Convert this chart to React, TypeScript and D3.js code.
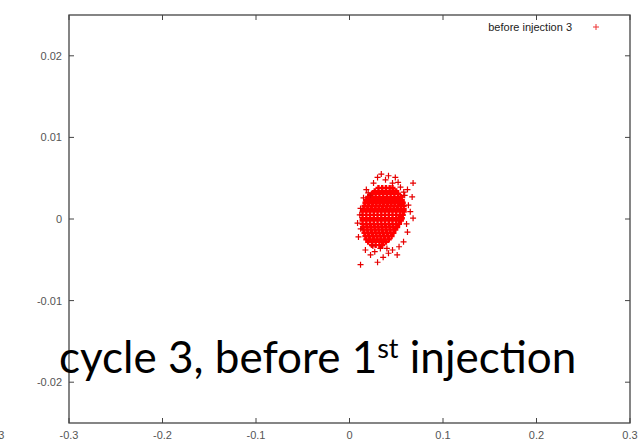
import React from "react";
import * as d3 from "d3";

const W = 644;
const H = 439;

const xTicks = [-0.3, -0.2, -0.1, 0, 0.1, 0.2, 0.3];
const yTicks = [-0.02, -0.01, 0, 0.01, 0.02];
const xTickLabels = ["-0.3", "-0.2", "-0.1", "0", "0.1", "0.2", "0.3"];
const yTickLabels = ["-0.02", "-0.01", "0", "0.01", "0.02"];

const seriesName = "before injection 3";
const titleMain = "cycle 3, before 1";
const titleSup = "st";
const titleTail = " injection";

// dense core of the cloud, by row: [y, x values]
const coreRows: [number, number[]][] = [
  [0.0038, [0.031, 0.035, 0.039, 0.043, 0.046]],
  [0.0034, [0.027, 0.031, 0.035, 0.039, 0.043, 0.047, 0.05]],
  [0.0031, [0.024, 0.028, 0.032, 0.036, 0.04, 0.044, 0.048, 0.052]],
  [0.0027, [0.02, 0.024, 0.028, 0.032, 0.036, 0.04, 0.044, 0.048, 0.052, 0.055]],
  [0.0023, [0.018, 0.022, 0.026, 0.03, 0.034, 0.038, 0.042, 0.046, 0.05, 0.053, 0.056]],
  [0.002, [0.017, 0.021, 0.025, 0.029, 0.033, 0.037, 0.041, 0.045, 0.049, 0.053, 0.057]],
  [0.0016, [0.016, 0.02, 0.024, 0.028, 0.032, 0.036, 0.04, 0.044, 0.048, 0.052, 0.055, 0.058]],
  [0.0012, [0.015, 0.019, 0.023, 0.027, 0.031, 0.035, 0.039, 0.043, 0.047, 0.051, 0.055, 0.058]],
  [0.0009, [0.014, 0.018, 0.022, 0.026, 0.03, 0.034, 0.038, 0.042, 0.046, 0.05, 0.054, 0.058]],
  [0.0005, [0.014, 0.018, 0.022, 0.026, 0.03, 0.034, 0.038, 0.042, 0.046, 0.05, 0.054, 0.057]],
  [0.0001, [0.014, 0.018, 0.022, 0.026, 0.03, 0.034, 0.038, 0.042, 0.046, 0.05, 0.053, 0.056]],
  [-0.0002, [0.014, 0.018, 0.022, 0.026, 0.03, 0.034, 0.038, 0.042, 0.046, 0.05, 0.055]],
  [-0.0006, [0.014, 0.018, 0.022, 0.026, 0.03, 0.034, 0.038, 0.042, 0.046, 0.05, 0.053]],
  [-0.001, [0.015, 0.019, 0.023, 0.027, 0.031, 0.035, 0.039, 0.043, 0.047, 0.051]],
  [-0.0013, [0.015, 0.019, 0.023, 0.027, 0.031, 0.035, 0.039, 0.043, 0.047, 0.049]],
  [-0.0017, [0.016, 0.02, 0.024, 0.028, 0.032, 0.036, 0.04, 0.044, 0.047]],
  [-0.0021, [0.017, 0.021, 0.025, 0.029, 0.033, 0.037, 0.041, 0.045]],
  [-0.0025, [0.018, 0.022, 0.026, 0.03, 0.034, 0.038, 0.042]],
  [-0.0028, [0.02, 0.024, 0.028, 0.032, 0.036, 0.039]],
  [-0.0032, [0.024, 0.028, 0.032, 0.035]],
];

// scattered points around the core: [x, y]
const fringePoints: [number, number][] = [
  [0.03, 0.0051], [0.0385, 0.0048], [0.049, 0.0051], [0.068, 0.0044],
  [0.0257, 0.0044], [0.015, 0.0026], [0.0118, 0.0013], [0.067, 0.0027],
  [0.063, 0.0017], [0.068, 0.0001], [0.062, 0.0036], [0.0545, 0.0039],
  [0.046, 0.0044], [0.0225, 0.0029], [0.0118, -0.0056], [0.03, -0.0053],
  [0.051, -0.0044], [0.0578, -0.0028], [0.062, -0.0016], [0.017, -0.0038],
  [0.0417, -0.0042], [0.0096, -0.0022], [0.0086, -0.0005], [0.036, -0.0047],
  [0.0225, -0.0044], [0.034, 0.0055], [0.018, 0.0036], [0.011, 0.0005],
  [0.065, 0.0009], [0.046, -0.0038], [0.033, -0.0036], [0.025, -0.0033],
  [0.059, 0.0029], [0.0417, 0.0053], [0.058, 0.0033], [0.061, -0.0006],
  [0.012, -0.0012], [0.027, -0.004], [0.04, -0.0036], [0.053, -0.0034],
  [0.02, 0.0032], [0.052, 0.0045],
];

const left = 69;
const right = 630;
const top = 15;
const bottom = 423;

export default function App() {
  const x = d3.scaleLinear().domain([-0.3, 0.3]).range([left, right]);
  const y = d3.scaleLinear().domain([-0.025, 0.025]).range([bottom, top]);

  const arm = 3;
  const cross = ([xv, yv]: [number, number]) => {
    const px = x(xv);
    const py = y(yv);
    return `M${px - arm},${py}h${2 * arm}M${px},${py - arm}v${2 * arm}`;
  };

  const corePoints: [number, number][] = [];
  coreRows.forEach(([yv, xs]) => xs.forEach((xv) => corePoints.push([xv, yv])));
  const corePath = corePoints.map(cross).join("");
  const fringePath = fringePoints.map(cross).join("");

  const axisColor = "#444";
  const labelColor = "#555";
  const tickLen = 5;
  const font = "'Liberation Sans', Arial, sans-serif";

  return (
    <svg
      width={W}
      height={H}
      style={{ position: "absolute", left: 0, top: 0, background: "#fff" }}
    >
      <rect x={0} y={0} width={W} height={H} fill="#fff" />
      {/* ticks */}
      <g stroke={axisColor} strokeWidth={1}>
        {xTicks.map((t) => (
          <g key={"xt" + t}>
            <line x1={x(t)} x2={x(t)} y1={bottom} y2={bottom - tickLen} />
            <line x1={x(t)} x2={x(t)} y1={top} y2={top + tickLen} />
          </g>
        ))}
        {yTicks.map((t) => (
          <g key={"yt" + t}>
            <line x1={left} x2={left + tickLen} y1={y(t)} y2={y(t)} />
            <line x1={right} x2={right - tickLen} y1={y(t)} y2={y(t)} />
          </g>
        ))}
      </g>
      {/* frame */}
      <rect
        x={left}
        y={top}
        width={right - left}
        height={bottom - top}
        fill="none"
        stroke={axisColor}
        strokeWidth={1.3}
      />
      {/* tick labels */}
      <g fill={labelColor} fontFamily={font} fontSize={11}>
        {xTicks.map((t, i) => (
          <text key={"xl" + t} x={x(t)} y={439} textAnchor="middle">
            {xTickLabels[i]}
          </text>
        ))}
        <text x={4.5} y={439} textAnchor="end">-0.3</text>
        {yTicks.map((t, i) => (
          <text key={"yl" + t} x={62} y={y(t) + 4} textAnchor="end">
            {yTickLabels[i]}
          </text>
        ))}
      </g>
      {/* data */}
      <path d={corePath} stroke="#ff0000" strokeWidth={2.4} fill="none" />
      <path d={fringePath} stroke="#e60000" strokeWidth={1.2} fill="none" />
      {/* legend */}
      <text
        x={572}
        y={31}
        textAnchor="end"
        fontFamily={font}
        fontSize={11}
        fill="#222"
      >
        {seriesName}
      </text>
      <path
        d={`M${596 - arm},27h${2 * arm}M596,${27 - arm}v${2 * arm}`}
        stroke="#e33"
        strokeWidth={1}
      />
      {/* overlay title */}
      <text
        x={59}
        y={373}
        fontFamily="Lato, 'Open Sans', sans-serif"
        fontSize={44}
        fill="#000"
      >
        {titleMain}
        <tspan fontSize={27} dy={-15}>
          {titleSup}
        </tspan>
        <tspan fontSize={44} dy={15}>
          {titleTail}
        </tspan>
      </text>
    </svg>
  );
}
